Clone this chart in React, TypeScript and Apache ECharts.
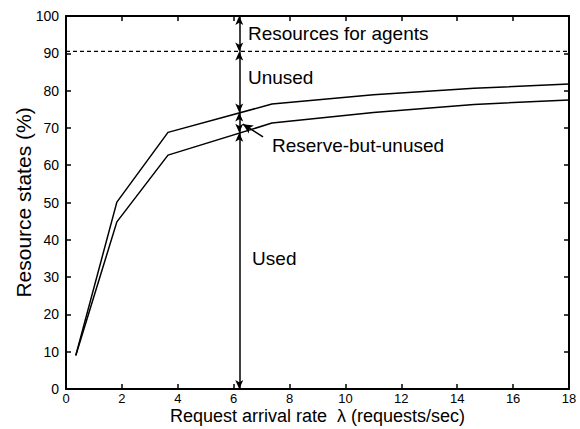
import React, { useEffect, useRef } from 'react';
import * as echarts from 'echarts';

// ---- data ----
const lambda = [0.35, 1.82, 3.65, 7.37, 11.0, 14.6, 18];
const upperValues = [9, 50.1, 68.8, 76.4, 78.9, 80.6, 81.8];
const lowerValues = [9, 44.8, 62.7, 71.3, 74.1, 76.3, 77.5];
const agentLimit = 90.5;
const dividerX = 6.2;
const arrowLevels = [100, 90.5, 74.1, 68.7, 0];
const annotationTexts = ['Resources for agents', 'Unused', 'Reserve-but-unused', 'Used'];
const annotationX = [6.51, 6.51, 7.37, 6.66];
const annotationY = [95.4, 83.4, 65.2, 34.9];
const pointerFrom = [7.05, 67.6];
const pointerTo = [6.33, 71.0];

const FONT = '"Liberation Sans", Arial, Helvetica, sans-serif';

export default function App() {
  const ref = useRef<HTMLDivElement>(null);
  useEffect(() => {
    if (!ref.current) return;
    const chart = echarts.init(ref.current, undefined, { renderer: 'svg' });
    const axisLine = { onZero: false, lineStyle: { color: '#000', width: 2 } };
    const axisTick = { inside: true, length: 5, lineStyle: { color: '#000', width: 1.5 } };
    const segs: any[] = [];
    for (let i = 0; i < arrowLevels.length - 1; i++) {
      segs.push([
        { coord: [dividerX, arrowLevels[i]] },
        { coord: [dividerX, arrowLevels[i + 1]] },
      ]);
    }
    chart.setOption({
      animation: false,
      textStyle: { fontFamily: FONT },
      grid: { left: 66, right: 11, top: 16, bottom: 40, containLabel: false, outerBoundsMode: 'none' },
      xAxis: [
        {
          type: 'value', min: 0, max: 18, interval: 2, position: 'bottom',
          axisLine, axisTick,
          axisLabel: { color: '#000', fontSize: 13, margin: 3, fontFamily: FONT },
          splitLine: { show: false },
          name: 'Request arrival rate  λ (requests/sec)',
          nameLocation: 'middle', nameGap: 18, nameMoveOverlap: false,
          nameTextStyle: { color: '#000', fontSize: 18, fontFamily: FONT },
        },
        {
          type: 'value', min: 0, max: 18, interval: 2, position: 'top',
          axisLine, axisTick, axisLabel: { show: false }, splitLine: { show: false },
        },
      ],
      yAxis: [
        {
          type: 'value', min: 0, max: 100, interval: 10, position: 'left',
          axisLine, axisTick,
          axisLabel: { color: '#000', fontSize: 14, margin: 7, fontFamily: FONT },
          splitLine: { show: false },
          name: 'Resource states (%)',
          nameLocation: 'middle', nameGap: 32, nameMoveOverlap: false,
          nameTextStyle: { color: '#000', fontSize: 21, fontFamily: FONT },
        },
        {
          type: 'value', min: 0, max: 100, interval: 10, position: 'right',
          axisLine, axisTick, axisLabel: { show: false }, splitLine: { show: false },
        },
      ],
      series: [
        {
          type: 'line', name: 'upper', data: lambda.map((x, i) => [x, upperValues[i]]),
          showSymbol: false, symbol: 'none', silent: true,
          lineStyle: { color: '#000', width: 1.5 },
        },
        {
          type: 'line', name: 'lower', data: lambda.map((x, i) => [x, lowerValues[i]]),
          showSymbol: false, symbol: 'none', silent: true,
          lineStyle: { color: '#000', width: 1.5 },
          markLine: {
            silent: true, animation: false,
            symbol: ['arrow', 'arrow'], symbolSize: [6, 9],
            label: { show: false },
            lineStyle: { color: '#000', width: 1.5, type: 'solid' },
            data: [
              ...segs,
              [
                { coord: pointerFrom, symbol: 'none' },
                { coord: pointerTo, symbol: 'arrow', symbolSize: [7, 10] },
              ],
            ],
          },
        },
        {
          type: 'line', name: 'limit', data: [[0, agentLimit], [18, agentLimit]],
          showSymbol: false, symbol: 'none', silent: true,
          lineStyle: { color: '#000', width: 1.2, type: [4, 3] },
        },
      ],
    });
    const texts = annotationTexts.map((t, i) => {
      const p = chart.convertToPixel({ xAxisIndex: 0, yAxisIndex: 0 }, [annotationX[i], annotationY[i]]);
      return {
        type: 'text', x: p[0], y: p[1], silent: true,
        style: { text: t, fill: '#000', font: `19px ${FONT}`, textAlign: 'left', textVerticalAlign: 'middle', verticalAlign: 'middle' },
      };
    });
    chart.setOption({ graphic: texts });
    return () => chart.dispose();
  }, []);
  return <div ref={ref} style={{ position: 'absolute', left: 0, top: 0, width: 580, height: 429, background: '#fff' }} />;
}
